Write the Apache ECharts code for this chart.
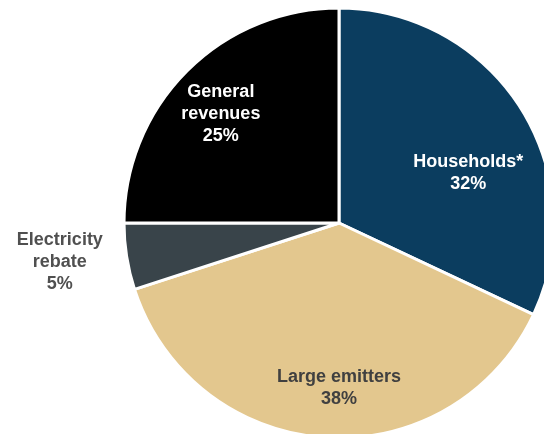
<!DOCTYPE html>
<html>
<head>
<meta charset="utf-8">
<script src="https://cdn.jsdelivr.net/npm/echarts@6/dist/echarts.min.js"></script>
<style>html,body{margin:0;padding:0;background:#fff;}#c{width:544px;height:434px;}</style>
</head>
<body>
<div id="c"></div>
<script>
const categories = ['Households*', 'Large emitters', 'Electricity\nrebate', 'General\nrevenues'];
const values = [32, 38, 5, 25];
const colors = ['#0b3d5f', '#e3c78e', '#39444a', '#000000'];
const labelColors = ['#ffffff', '#404040', '#505050', '#ffffff'];
const labelShift = [[36, 9], [7, 55], [-170, 22], [-40, -31]];

const chart = echarts.init(document.getElementById('c'), null, {renderer: 'canvas'});
chart.setOption({
  animation: false,
  series: [{
    type: 'pie',
    center: [339, 223],
    radius: [0, 215],
    startAngle: 90,
    clockwise: true,
    data: categories.map((name, i) => ({
      name: name,
      value: values[i],
      itemStyle: {color: colors[i]},
      label: {color: labelColors[i]}
    })),
    itemStyle: {borderColor: '#ffffff', borderWidth: 3},
    label: {
      show: true,
      position: 'inside',
      formatter: p => p.name + '\n' + p.value + '%',
      fontFamily: 'Liberation Sans, Arial, sans-serif',
      fontWeight: 'bold',
      fontSize: 18,
      lineHeight: 22,
      align: 'center'
    },
    labelLine: {show: false},
    labelLayout: function (params) {
      const s = labelShift[params.dataIndex];
      return {dx: s[0], dy: s[1]};
    },
    emphasis: {disabled: true}
  }]
});
</script>
</body>
</html>
